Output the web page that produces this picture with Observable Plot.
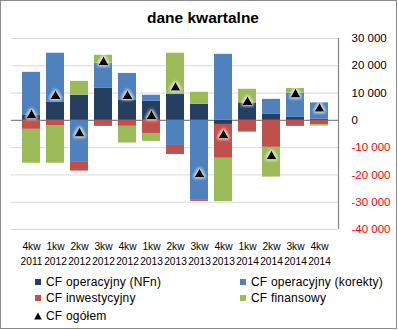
<!DOCTYPE html>
<html>
<head>
<meta charset="utf-8">
<script src="https://cdn.jsdelivr.net/npm/d3@7"></script>
<script src="https://cdn.jsdelivr.net/npm/@observablehq/plot@0.6"></script>
<style>
  html, body { margin: 0; padding: 0; background: #fff; }
  #frame { position: absolute; left: 0; top: 0; width: 397px; height: 329px; box-sizing: border-box; border: 1px solid #8c8c8c; background: #fff; }
  #title { position: absolute; left: 0; top: 9px; width: 406px; text-align: center; font: bold 15.5px "Liberation Sans", Arial, sans-serif; color: #000; }
  #chart { position: absolute; left: 0; top: 28px; }
  .lg { position: absolute; font: 12px "Liberation Sans", Arial, sans-serif; color: #000; white-space: nowrap; line-height: 14px; letter-spacing: 0.2px; }
  .sw { position: absolute; width: 6px; height: 6px; }
</style>
</head>
<body>
<div id="frame"></div>
<div id="title">dane kwartalne</div>
<div id="chart"></div>
<div id="legend"></div>
<script>
const quarters = ["4kw","1kw","2kw","3kw","4kw","1kw","2kw","3kw","4kw","1kw","2kw","3kw","4kw"];
const years    = ["2011","2012","2012","2012","2012","2013","2013","2013","2013","2014","2014","2014","2014"];
const seriesNames = ["CF operacyjny (NFn)","CF operacyjny (korekty)","CF inwestycyjny","CF finansowy"];
const seriesColors = ["#243f60","#4f81bd","#c0504d","#9bbb59"];
const cfNFn        = [1800, 6600, 9200, 11750, 7300, 7000, 9550, 5900, -1500, 6400, 2200, 1100, 400];
const cfKorekty    = [15800, 18000, -15400, 9200, 9900, 2200, -9200, -29100, 24200, 0, 5500, 8900, 6000];
const cfInwest     = [-3300, -2100, -3200, -2200, -2200, -4800, -3300, -600, -12400, -4300, -9900, -2200, -1600];
const cfFinans     = [-12400, -13600, 5100, 2900, -6100, -2900, 15050, 4400, -15900, 5000, -10900, 1700, -500];
const cfOgolem     = [1900, 8900, -4800, 21300, 8900, 1500, 11900, -19800, -5500, 6700, -13200, 9500, 4200];
const totalName = "CF ogółem";
const yTicks = [-40000, -30000, -20000, -10000, 0, 10000, 20000, 30000];

const keys = quarters.map((q, i) => q + "\n" + years[i]);
const seriesValues = [cfNFn, cfKorekty, cfInwest, cfFinans];
const rows = [];
keys.forEach((k, i) => seriesNames.forEach((s, j) => rows.push({q: k, series: s, value: seriesValues[j][i]})));
const totals = keys.map((k, i) => ({q: k, v: cfOgolem[i]}));

const loc = d3.formatLocale({decimal: ",", thousands: " ", grouping: [3], currency: ["", ""], minus: "-"});
const fmt = loc.format(",");

const plot = Plot.plot({
  width: 398, height: 241,
  marginLeft: 11, marginRight: 60, marginTop: 10, marginBottom: 40,
  style: {fontFamily: "'Liberation Sans', Arial, sans-serif", background: "transparent", color: "#000"},
  x: {domain: keys, padding: 0.25, label: null},
  y: {domain: [-40000, 30000], label: null},
  color: {domain: seriesNames, range: seriesColors},
  marks: [
    Plot.ruleY(yTicks.filter(d => d !== 0), {stroke: "#d9d9d9", strokeWidth: 1}),
    Plot.ruleY([0], {stroke: "#868686", strokeWidth: 1.3}),
    Plot.barY(rows, {x: "q", y: "value", fill: "series"}),
    Plot.dot(totals, {x: "q", y: "v", symbol: "triangle", fill: "black", stroke: "none", r: 3.8}),
    Plot.axisX({tickSize: 0, tickPadding: 10, fontSize: 10.2, lineHeight: 1.48, fill: "#000", label: null}),
    Plot.axisY(yTicks.filter(d => d >= 0), {anchor: "right", tickSize: 0, tickPadding: 13, textAnchor: "start", tickFormat: fmt, fontSize: 11.5, fill: "#000", label: null}),
    Plot.axisY(yTicks.filter(d => d < 0), {anchor: "right", tickSize: 0, tickPadding: 13, textAnchor: "start", tickFormat: fmt, fontSize: 11.5, fill: "#ff0000", label: null})
  ]
});
document.getElementById("chart").appendChild(plot);

// right axis line and glow around triangles
const svg = d3.select(plot.tagName.toLowerCase() === "svg" ? plot : plot.querySelector("svg"));
const ys = plot.scale("y");
const xr = plot.scale("x").range;
svg.append("line")
  .attr("x1", xr[1] + 0.5).attr("x2", xr[1] + 0.5)
  .attr("y1", ys.range[0]).attr("y2", ys.range[1])
  .attr("stroke", "#868686").attr("stroke-width", 1.2);
const defs = svg.insert("defs", ":first-child");
const f = defs.append("filter").attr("id", "glow").attr("x", "-150%").attr("y", "-150%").attr("width", "400%").attr("height", "400%");
f.append("feMorphology").attr("in", "SourceAlpha").attr("operator", "dilate").attr("radius", 1.2).attr("result", "d");
f.append("feGaussianBlur").attr("in", "d").attr("stdDeviation", 1.8).attr("result", "b");
f.append("feFlood").attr("flood-color", "#ffffff").attr("flood-opacity", 0.9).attr("result", "w");
f.append("feComposite").attr("in", "w").attr("in2", "b").attr("operator", "in").attr("result", "g");
const m = f.append("feMerge");
m.append("feMergeNode").attr("in", "g");
m.append("feMergeNode").attr("in", "SourceGraphic");
svg.selectAll('g[aria-label="dot"] path').attr("filter", "url(#glow)");

// legend
const legend = document.getElementById("legend");
const items = [
  {name: seriesNames[0], color: seriesColors[0], x: 35, y: 282},
  {name: seriesNames[1], color: seriesColors[1], x: 240, y: 282},
  {name: seriesNames[2], color: seriesColors[2], x: 35, y: 298},
  {name: seriesNames[3], color: seriesColors[3], x: 240, y: 298},
  {name: totalName, color: null, x: 35, y: 316}
];
items.forEach(it => {
  if (it.color) {
    const s = document.createElement("div");
    s.className = "sw";
    s.style.left = it.x + "px"; s.style.top = (it.y - 3) + "px"; s.style.background = it.color;
    legend.appendChild(s);
  } else {
    const s = document.createElementNS("http://www.w3.org/2000/svg", "svg");
    s.setAttribute("width", 8); s.setAttribute("height", 8);
    s.style.position = "absolute"; s.style.left = (it.x - 1) + "px"; s.style.top = (it.y - 4) + "px";
    s.innerHTML = '<path d="M4 0.5 L7.8 7.5 L0.2 7.5 Z" fill="#000"/>';
    legend.appendChild(s);
  }
  const t = document.createElement("div");
  t.className = "lg";
  t.textContent = it.name;
  t.style.left = (it.x + 11) + "px"; t.style.top = (it.y - 7) + "px";
  legend.appendChild(t);
});
</script>
</body>
</html>
